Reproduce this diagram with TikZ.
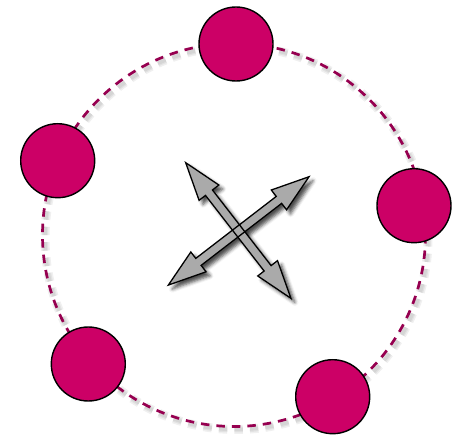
\documentclass[tikz,border=0pt]{standalone}
\usetikzlibrary{shadows.blur}
\definecolor{nodefill}{RGB}{204,0,102}
\definecolor{ringcol}{RGB}{150,0,80}
\definecolor{arrowfill}{RGB}{170,170,170}
\newcommand\dblarrowpath[2]{(-#1,0) -- (-#2,12.5) -- (-#2,4.4) -- (#2,4.4) -- (#2,12.5) -- (#1,0) -- (#2,-12.5) -- (#2,-4.4) -- (-#2,-4.4) -- (-#2,-12.5) -- cycle}
\begin{document}
\begin{tikzpicture}[x=1pt,y=-1pt,
  dot/.style={circle, draw=black, line width=1.4pt, fill=nodefill, minimum size=74pt, inner sep=0pt},
  ring/.style={draw=ringcol, line width=2.7pt, dash pattern=on 8.5pt off 7pt},
  ringshadow/.style={draw=black, line width=#1, dash pattern=on 8.5pt off 7pt, opacity=0.06},
  arrowshadow/.style={blur shadow={shadow xshift=0pt, shadow yshift=0pt, shadow blur radius=3.5pt, shadow opacity=70}},
  arrowbody/.style={fill=arrowfill},
  arrowline/.style={draw=black, line width=1.3pt, line join=miter}
]
\useasboundingbox (0,0) rectangle (458,435);
% ring with soft shadow
\begin{scope}[shift={(2.5,3)}]
  \draw[ringshadow=9pt] (234,235) circle[radius=191.5];
  \draw[ringshadow=6pt] (234,235) circle[radius=191.5];
  \draw[ringshadow=3.5pt] (234,235) circle[radius=191.5];
\end{scope}
\draw[ring] (234,235) circle[radius=191.5];
% nodes on the ring
\node[dot] (top) at (236,44) {};
\node[dot] (left) at (57.7,160.7) {};
\node[dot] (right) at (414,205.7) {};
\node[dot] (lowleft) at (88.3,364) {};
\node[dot] (lowright) at (332.7,396.7) {};
% arrow shadows
\begin{scope}[shift={(242.7,234.9)},rotate=37.6]
  \path[arrowshadow] \dblarrowpath{88.8}{50.8};
\end{scope}
\begin{scope}[shift={(242.3,234.5)},rotate=-52.2]
  \path[arrowshadow] \dblarrowpath{85.85}{47.85};
\end{scope}
% arrow fills
\begin{scope}[shift={(238.7,230.9)},rotate=37.6]
  \path[arrowbody] \dblarrowpath{88.8}{50.8};
\end{scope}
\begin{scope}[shift={(238.3,230.5)},rotate=-52.2]
  \path[arrowbody] \dblarrowpath{85.85}{47.85};
\end{scope}
% arrow outlines
\begin{scope}[shift={(238.7,230.9)},rotate=37.6]
  \path[arrowline] \dblarrowpath{88.8}{50.8};
\end{scope}
\begin{scope}[shift={(238.3,230.5)},rotate=-52.2]
  \path[arrowline] \dblarrowpath{85.85}{47.85};
\end{scope}
\end{tikzpicture}
\end{document}
